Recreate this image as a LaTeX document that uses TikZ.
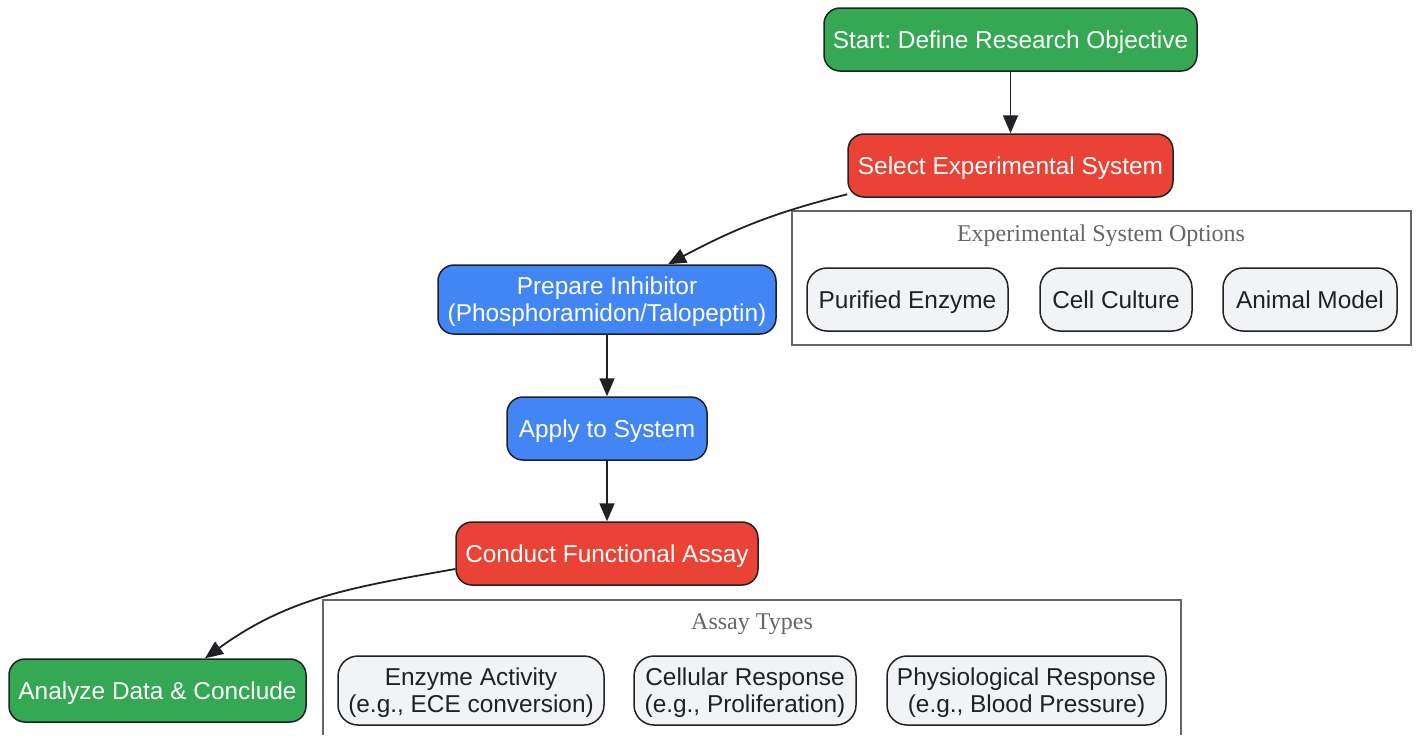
\documentclass[tikz,border=0pt]{standalone}
\usepackage{fontspec}
\setmainfont{Liberation Sans}
\newfontfamily\titlefont{Liberation Serif}
\usetikzlibrary{arrows.meta}
\definecolor{stepgreen}{HTML}{34A853}
\definecolor{stepred}{HTML}{EA4335}
\definecolor{stepblue}{HTML}{4285F4}
\definecolor{optfill}{HTML}{F1F3F4}
\definecolor{inkdark}{HTML}{202124}
\definecolor{framegray}{HTML}{666666}
\frenchspacing
\begin{document}
\begin{tikzpicture}[x=0.5pt,y=-0.5pt,thick,
    main node/.style={rectangle,rounded corners=8pt,draw=inkdark,line width=0.75pt,text=white,align=center,inner sep=0pt,text depth=0pt,minimum height=31.5pt,font=\fontsize{12.2}{13.6}\selectfont},
    opt node/.style={main node,fill=optfill,text=inkdark,rounded corners=10pt},
    group box/.style={draw=framegray,line width=0.75pt},
    group title/.style={text=framegray,text depth=0pt,font=\titlefont\fontsize{12}{14}\selectfont},
    arr/.style={-{Triangle[length=9pt,width=7.5pt]},draw=inkdark,line width=0.9pt}]
        \useasboundingbox (0,0) rectangle (1418,735);

        % clusters
        \draw[group box] (792,211) rectangle (1411,345);
        \node[group title] at (1101,233) (systitle) {Experimental System Options};
        \draw[group box] (323,735) |- (1181,600) -- (1181,735);
        \node[group title] at (752,622) (assaytitle) {Assay Types};

        % main flow
        \node[main node,fill=stepgreen,minimum width=186.5pt] at (1010.5,39.5) (start) {Start: Define Research Objective};
        \node[main node,fill=stepred,minimum width=162.5pt] at (1010.5,165.5) (select) {Select Experimental System};
        \node[main node,fill=stepblue,minimum width=169pt,minimum height=34.5pt] at (607,299.5) (prep) {Prepare Inhibitor\\(Phosphoramidon/Talopeptin)};
        \node[main node,fill=stepblue,minimum width=100pt] at (607,428.5) (apply) {Apply to System};
        \node[main node,fill=stepred,minimum width=151pt] at (607,553.5) (assay) {Conduct Functional Assay};
        \node[main node,fill=stepgreen,minimum width=148.5pt] at (157.5,690.5) (analyze) {Analyze Data \& Conclude};

        % options
        \node[opt node,minimum width=100.5pt] at (907.5,299.5) (purified) {Purified Enzyme};
        \node[opt node,minimum width=76pt] at (1116,299.5) (culture) {Cell Culture};
        \node[opt node,minimum width=87pt] at (1310,299.5) (animal) {Animal Model};
        \node[opt node,minimum width=133pt,minimum height=34.5pt] at (471,690.5) (enzyme) {Enzyme Activity\\(e.g., ECE conversion)};
        \node[opt node,minimum width=111pt,minimum height=34.5pt] at (745,690.5) (cellular) {Cellular Response\\(e.g., Proliferation)};
        \node[opt node,minimum width=139.5pt,minimum height=34.5pt] at (1026.5,690.5) (physio) {Physiological Response\\(e.g., Blood Pressure)};

        \path
            (start) edge[arr] (select)
            (select.190) edge[arr,out=194,in=28] ([xshift=30.5pt]prep.north)
            (prep) edge[arr] (apply)
            (apply) edge[arr] (assay)
            ([yshift=-7.75pt]assay.west) edge[arr,out=190,in=36] ([xshift=23.75pt]analyze.north)
            ;
\end{tikzpicture}
\end{document}
